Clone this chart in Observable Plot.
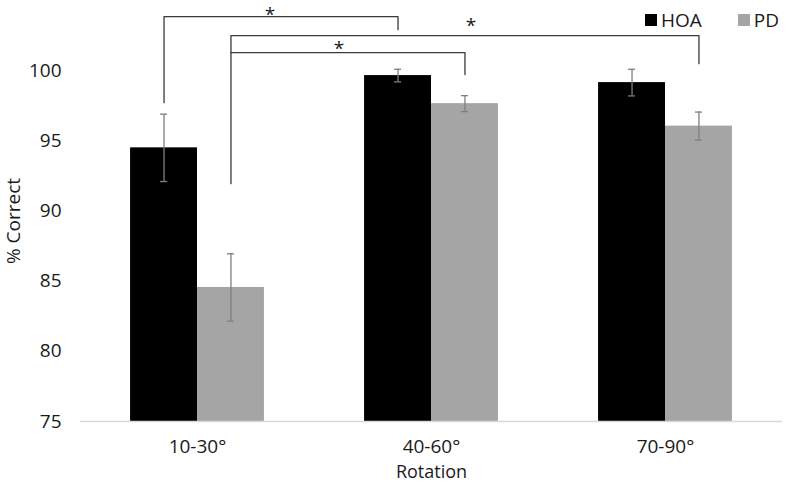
<!DOCTYPE html>
<html>
<head>
<meta charset="utf-8">
<script src="https://cdn.jsdelivr.net/npm/d3@7"></script>
<script src="https://cdn.jsdelivr.net/npm/@observablehq/plot@0.6"></script>
<style>
  html, body { margin: 0; padding: 0; background: #fff; }
  #wrap { position: relative; width: 785px; height: 483px; font-family: "Open Sans", sans-serif; }
  #legend { position: absolute; top: 7px; left: 645px; display: flex; align-items: center; font-size: 19px; color: #1a1a1a; }
  #legend .item { display: flex; align-items: center; }
  #legend .sw { width: 12px; height: 12px; margin-right: 4px; }
</style>
</head>
<body>
<div id="wrap"><div id="legend"></div></div>
<script>
// ---- data ----
const categories = ["10-30°", "40-60°", "70-90°"];
const series = ["HOA", "PD"];
const seriesColors = ["#000000", "#a5a5a5"];
const hoaMeans = [94.5, 99.65, 99.15];
const hoaErrors = [2.4, 0.45, 0.95];
const pdMeans = [84.55, 97.65, 96.05];
const pdErrors = [2.4, 0.57, 1.0];
const yTicks = [75, 80, 85, 90, 95, 100];
const yDomain = [75, 105];

// significance brackets
const bracketFrom = ["10-30°", "10-30°", "10-30°"];
const bracketTo = ["40-60°", "70-90°", "40-60°"];
const bracketSeries = ["HOA", "PD", "PD"];
const bracketTop = [103.85, 102.49, 101.28];
const bracketLeftEnd = [97.72, 91.95, 101.28];
const bracketRightEnd = [102.92, 100.5, 99.72];
const starBaseline = [103.55, 102.75, 101.15];
const starShift = [-0.047, 0.026, -0.038]; // star offset from bracket middle, in category steps
const starLabel = ["*", "*", "*"];

// ---- layout (fractions of a category step) ----
const BAR_W = 0.286;
const CAP = 0.015;

const catIndex = c => categories.indexOf(c);
const serIndex = s => series.indexOf(s);
const barCenter = (c, s) => catIndex(c) + 0.5 + (serIndex(s) === 0 ? -BAR_W / 2 : BAR_W / 2);

const rows = categories.flatMap((c, i) => series.map((s, j) => {
  const mean = j === 0 ? hoaMeans[i] : pdMeans[i];
  const err = j === 0 ? hoaErrors[i] : pdErrors[i];
  const x1 = i + 0.5 + (j === 0 ? -BAR_W : 0);
  return {cat: c, ser: s, mean, lo: mean - err, hi: mean + err, x1, x2: x1 + BAR_W, xc: barCenter(c, s)};
}));

const bracketPts = bracketFrom.flatMap((f, k) => {
  const a = barCenter(f, bracketSeries[k]);
  const b = barCenter(bracketTo[k], bracketSeries[k]);
  return [
    {k, x: a, y: bracketLeftEnd[k]},
    {k, x: a, y: bracketTop[k]},
    {k, x: b, y: bracketTop[k]},
    {k, x: b, y: bracketRightEnd[k]}
  ];
});
const stars = bracketFrom.map((f, k) => ({
  x: (barCenter(f, bracketSeries[k]) + barCenter(bracketTo[k], bracketSeries[k])) / 2 + starShift[k],
  y: starBaseline[k],
  t: starLabel[k]
}));

const chart = Plot.plot({
  width: 785,
  height: 483,
  marginLeft: 80,
  marginRight: 3,
  marginTop: 0,
  marginBottom: 62,
  style: {fontFamily: "Open Sans", fontSize: "19px", color: "#1a1a1a", background: "#fff", overflow: "visible"},
  x: {
    type: "linear",
    domain: [0, categories.length],
    ticks: categories.map((c, i) => i + 0.5),
    tickFormat: v => categories[Math.floor(v)],
    tickSize: 0,
    tickPadding: 17.5,
    label: null
  },
  y: {
    domain: yDomain,
    ticks: yTicks,
    tickSize: 0,
    tickPadding: 19,
    label: null
  },
  color: {domain: series, range: seriesColors},
  marks: [
    Plot.rectY(rows, {x1: "x1", x2: "x2", y1: yDomain[0], y2: "mean", fill: "ser"}),
    Plot.ruleY([yDomain[0]], {stroke: "#d9d9d9", strokeWidth: 1.5}),
    Plot.ruleX(rows, {x: "xc", y1: "lo", y2: "hi", stroke: "#7f7f7f", strokeWidth: 1.3}),
    Plot.ruleY(rows, {y: "hi", x1: d => d.xc - CAP, x2: d => d.xc + CAP, stroke: "#7f7f7f", strokeWidth: 1.3}),
    Plot.ruleY(rows, {y: "lo", x1: d => d.xc - CAP, x2: d => d.xc + CAP, stroke: "#7f7f7f", strokeWidth: 1.3}),
    Plot.line(bracketPts, {x: "x", y: "y", z: "k", stroke: "#3a3a3a", strokeWidth: 1.3, curve: "linear"}),
    Plot.text(stars, {x: "x", y: "y", text: "t", lineAnchor: "bottom", fontSize: 19, fill: "#1a1a1a"}),
    Plot.text(["Rotation"], {frameAnchor: "bottom", lineAnchor: "top", dy: 43.5, fontSize: 18, fill: "#1a1a1a"}),
    Plot.text(["% Correct"], {frameAnchor: "left", dx: -67, dy: 10, rotate: -90, textAnchor: "middle", lineAnchor: "middle", fontSize: 19, fill: "#1a1a1a"})
  ]
});
document.getElementById("wrap").prepend(chart);

// legend
const legend = document.getElementById("legend");
series.forEach((s, j) => {
  const item = document.createElement("div");
  item.className = "item";
  if (j > 0) item.style.marginLeft = "36px";
  const sw = document.createElement("div");
  sw.className = "sw";
  sw.style.background = seriesColors[j];
  const lab = document.createElement("span");
  lab.textContent = s;
  item.append(sw, lab);
  legend.append(item);
});
</script>
</body>
</html>
